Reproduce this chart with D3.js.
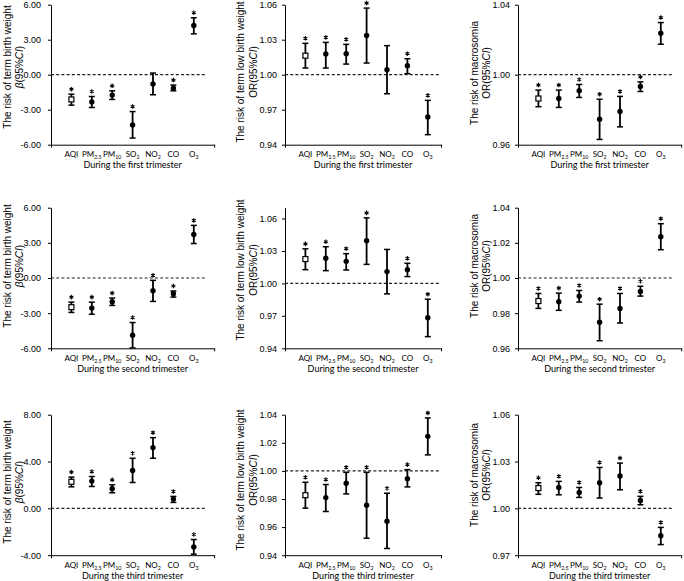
<!DOCTYPE html>
<html>
<head>
<meta charset="utf-8">
<script src="https://cdn.jsdelivr.net/npm/d3@7"></script>
<style>
  body { margin: 0; background: #fff; }
  svg { display: block; }
  .tick text { font-family: "Liberation Sans", Arial, sans-serif; font-size: 9px; fill: #000; }
</style>
</head>
<body>
<div id="chart"></div>
<script>
// pollutants on the x axis: [base text, subscript]
const pollutants = [["AQI", ""], ["PM", "2.5"], ["PM", "10"], ["SO", "2"], ["NO", "2"], ["CO", ""], ["O", "3"]];
const trimesters = ["first", "second", "third"];
const outcomes = ["The risk of term birth weight", "The risk of term low birth weight", "The risk of macrosomia"];
const effects = ["β", "OR", "OR"];

// term birth weight, beta (95% CI)
const tbw1Est = [-2.12, -2.33, -1.75, -4.31, -0.80, -1.15, 4.22];
const tbw1Lo  = [-2.61, -2.81, -2.12, -5.43, -1.72, -1.38, 3.50];
const tbw1Hi  = [-1.67, -1.87, -1.38, -3.16, 0.14, -0.89, 4.88];
const tbw2Est = [-2.49, -2.57, -2.03, -4.89, -1.09, -1.34, 3.71];
const tbw2Lo  = [-2.94, -3.09, -2.34, -5.97, -2.00, -1.63, 2.94];
const tbw2Hi  = [-2.06, -2.06, -1.71, -3.80, -0.20, -1.11, 4.49];
const tbw3Est = [2.27, 2.33, 1.67, 3.23, 5.19, 0.79, -3.29];
const tbw3Lo  = [1.84, 1.87, 1.33, 2.21, 4.28, 0.51, -3.91];
const tbw3Hi  = [2.67, 2.72, 2.01, 4.28, 6.04, 1.02, -2.66];

// term low birth weight, OR (95% CI)
const lbw1Est = [1.0163, 1.0177, 1.0180, 1.0337, 1.0043, 1.0077, 0.9637];
const lbw1Lo  = [1.0057, 1.0057, 1.0091, 1.0100, 0.9837, 1.0009, 0.9486];
const lbw1Hi  = [1.0269, 1.0277, 1.0260, 1.0571, 1.0249, 1.0137, 0.9780];
const lbw2Est = [1.0225, 1.0232, 1.0204, 1.0394, 1.0109, 1.0127, 0.9683];
const lbw2Lo  = [1.0127, 1.0118, 1.0124, 1.0176, 0.9903, 1.0063, 0.9508];
const lbw2Hi  = [1.0320, 1.0339, 1.0275, 1.0606, 1.0314, 1.0186, 0.9854];
const lbw3Est = [0.9827, 0.9810, 0.9912, 0.9756, 0.9642, 0.9945, 1.0246];
const lbw3Lo  = [0.9735, 0.9711, 0.9836, 0.9521, 0.9448, 0.9886, 1.0114];
const lbw3Hi  = [0.9919, 0.9903, 0.9990, 0.9990, 0.9841, 1.0009, 1.0377];

// macrosomia, OR (95% CI)
const mac1Est = [0.9864, 0.9864, 0.9908, 0.9746, 0.9790, 0.9933, 1.0237];
const mac1Lo  = [0.9817, 0.9813, 0.9870, 0.9630, 0.9702, 0.9904, 1.0174];
const mac1Hi  = [0.9912, 0.9912, 0.9944, 0.9860, 0.9876, 0.9959, 1.0298];
const mac2Est = [0.9869, 0.9865, 0.9897, 0.9748, 0.9827, 0.9923, 1.0235];
const mac2Lo  = [0.9827, 0.9816, 0.9863, 0.9643, 0.9744, 0.9897, 1.0161];
const mac2Hi  = [0.9912, 0.9914, 0.9929, 0.9851, 0.9912, 0.9953, 1.0309];
const mac3Est = [1.0130, 1.0134, 1.0102, 1.0164, 1.0207, 1.0051, 0.9825];
const mac3Lo  = [1.0090, 1.0087, 1.0070, 1.0066, 1.0119, 1.0023, 0.9768];
const mac3Hi  = [1.0164, 1.0173, 1.0134, 1.0262, 1.0290, 1.0077, 0.9878];

// significance stars (1 = "*")
const sigNoNO2 = [1, 1, 1, 1, 0, 1, 1];
const sigAll   = [1, 1, 1, 1, 1, 1, 1];

// y axes: [min, max], tick step, reference line
const yDomains = [[-6, 6], [0.94, 1.06], [0.96, 1.04],
                  [-6, 6], [0.94, 1.07], [0.96, 1.04],
                  [-4, 8], [0.94, 1.04], [0.97, 1.06]];
const yTickSteps = [3, 0.03, 0.04, 3, 0.03, 0.02, 4, 0.02, 0.03];
const refValues = [0, 1, 1, 0, 1, 1, 0, 1, 1];

const panels = [
  [tbw1Est, tbw1Lo, tbw1Hi, sigNoNO2], [lbw1Est, lbw1Lo, lbw1Hi, sigNoNO2], [mac1Est, mac1Lo, mac1Hi, sigAll],
  [tbw2Est, tbw2Lo, tbw2Hi, sigAll],   [lbw2Est, lbw2Lo, lbw2Hi, sigNoNO2], [mac2Est, mac2Lo, mac2Hi, sigAll],
  [tbw3Est, tbw3Lo, tbw3Hi, sigAll],   [lbw3Est, lbw3Lo, lbw3Hi, sigAll],   [mac3Est, mac3Lo, mac3Hi, sigAll]
];

//layout
const width = 684, height = 581;
const colX = [51, 285, 518];      // y axis position per column
const colMax = [8, 7.65, 8];      // x axis extent (in category units)
const step = 20.4;                // px per category
const rowTop = [4.7, 207.7, 414.7];
const rowBottom = [144.7, 348.3, 555.2];
const tickPad = [7, 5, 5];
const titleX1 = [7, 240.5, 474];
const titleX2 = [18.5, 252.5, 486];
const titleCY = [67, 72, 73, 266, 270, 266, 482, 480, 475];
const dashEnd = 7.6;

const sansFont = '"Liberation Sans", Arial, sans-serif';
const labelFont = 'Lato, "Open Sans", sans-serif';
const minusFix = v => d3.format(".2f")(v).replace("\u2212", "-");
const star = d3.symbol(d3.symbolAsterisk, 14)();

const svg = d3.select("#chart").append("svg")
  .attr("width", width)
  .attr("height", height)
  .style("background", "#fff");

panels.forEach(([est, lo, hi, sig], i) => {
  const col = i % 3, row = Math.floor(i / 3);
  const g = svg.append("g");

  const x = d3.scaleLinear()
    .domain([0, colMax[col]])
    .range([colX[col], colX[col] + colMax[col] * step]);
  const y = d3.scaleLinear()
    .domain(yDomains[i])
    .range([rowBottom[row], rowTop[row]]);

  const [ymin, ymax] = yDomains[i];
  const nTicks = Math.floor((ymax - ymin) / yTickSteps[i] + 1e-6) + 1;
  const tickVals = d3.range(nTicks).map(k => ymin + k * yTickSteps[i]);

  // y axis
  const yAxis = g.append("g")
    .attr("transform", `translate(${colX[col]},0)`)
    .call(d3.axisLeft(y).tickValues(tickVals).tickSize(3).tickSizeOuter(0).tickPadding(tickPad[col]).tickFormat(minusFix));
  yAxis.select(".domain").attr("stroke", "#000").attr("stroke-width", 1);
  yAxis.selectAll(".tick line").attr("stroke", "#000");

  // x axis, only end ticks
  const xAxis = g.append("g")
    .attr("transform", `translate(0,${rowBottom[row]})`)
    .call(d3.axisBottom(x).tickValues([0, colMax[col]]).tickSize(3).tickSizeOuter(0).tickFormat(""));
  xAxis.select(".domain").attr("stroke", "#000").attr("stroke-width", 1);
  xAxis.selectAll(".tick line").attr("stroke", "#000");

  // reference line
  g.append("line")
    .attr("x1", x(0)).attr("x2", x(dashEnd))
    .attr("y1", y(refValues[i])).attr("y2", y(refValues[i]))
    .attr("stroke", "#222")
    .attr("stroke-width", 1.2)
    .attr("stroke-dasharray", "3,2.2");

  const idx = d3.range(est.length);
  const cx = k => x(k + 1);

  // error bars
  g.selectAll(".bar").data(idx).join("line")
    .attr("x1", cx).attr("x2", cx)
    .attr("y1", k => y(lo[k])).attr("y2", k => y(hi[k]))
    .attr("stroke", "#000").attr("stroke-width", 1.8);
  [lo, hi].forEach(arr => {
    g.selectAll(null).data(idx).join("line")
      .attr("x1", k => cx(k) - 3).attr("x2", k => cx(k) + 3)
      .attr("y1", k => y(arr[k])).attr("y2", k => y(arr[k]))
      .attr("stroke", "#000").attr("stroke-width", 1.5);
  });

  // markers: AQI hollow square, others filled dots
  g.append("rect")
    .attr("x", cx(0) - 2.5).attr("y", y(est[0]) - 2.5)
    .attr("width", 5).attr("height", 5)
    .attr("fill", "#fff").attr("stroke", "#000").attr("stroke-width", 1.2);
  g.selectAll(null).data(idx.slice(1)).join("circle")
    .attr("cx", cx).attr("cy", k => y(est[k]))
    .attr("r", 2.7).attr("fill", "#000");

  // significance stars
  g.selectAll(null).data(idx.filter(k => sig[k])).join("path")
    .attr("d", star)
    .attr("transform", k => `translate(${cx(k)},${y(hi[k]) - 5})`)
    .attr("stroke", "#000").attr("stroke-width", 1.1);

  // category labels
  const lab = g.selectAll(null).data(idx).join("text")
    .attr("x", cx).attr("y", rowBottom[row] + 12.5)
    .attr("text-anchor", "middle")
    .style("font-family", labelFont).style("font-size", "8px");
  lab.append("tspan").text(k => pollutants[k][0]);
  lab.append("tspan")
    .attr("dy", 1.8).style("font-size", "5.3px")
    .text(k => pollutants[k][1]);

  // x title
  g.append("text")
    .attr("x", (x(0) + x(colMax[col])) / 2)
    .attr("y", rowBottom[row] + 23.5)
    .attr("text-anchor", "middle")
    .style("font-family", labelFont).style("font-size", "9px")
    .text(`During the ${trimesters[row]} trimester`);

  // y title, two lines
  g.append("text")
    .attr("transform", `translate(${titleX1[col]},${titleCY[i]}) rotate(-90)`)
    .attr("text-anchor", "middle").attr("dominant-baseline", "central")
    .style("font-family", sansFont).style("font-size", "10px")
    .text(outcomes[col]);
  const t2 = g.append("text")
    .attr("transform", `translate(${titleX2[col]},${titleCY[i]}) rotate(-90)`)
    .attr("text-anchor", "middle").attr("dominant-baseline", "central")
    .style("font-family", sansFont).style("font-size", "10px");
  t2.append("tspan").style("font-style", col === 0 ? "italic" : "normal").text(effects[col]);
  t2.append("tspan").text("(95%");
  t2.append("tspan").style("font-style", "italic").text("CI");
  t2.append("tspan").text(")");
});
</script>
</body>
</html>
